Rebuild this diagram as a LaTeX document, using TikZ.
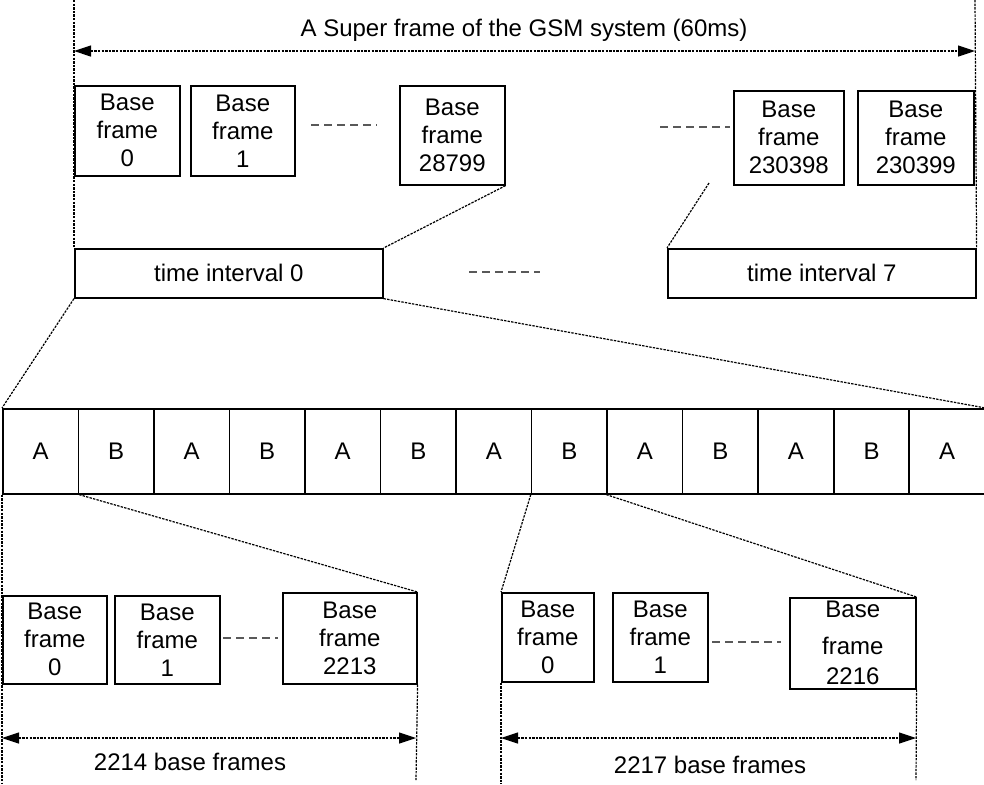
\documentclass[tikz,border=0pt]{standalone}
\usepackage{fontspec}
\setmainfont{Liberation Sans}
\usetikzlibrary{arrows.meta}

\begin{document}
\begin{tikzpicture}[
    x=0.5pt, y=-0.5pt,
    font=\fontsize{12}{14}\selectfont,
    frm/.style={draw,line width=0.8pt,align=center,inner sep=0pt,anchor=north west},
    wh/.style 2 args={minimum width=#1*0.5pt,minimum height=#2*0.5pt},
    guide/.style={line width=0.6pt,dash pattern=on 1.2pt off 0.6pt},
    gap/.style={gray!70!black,line width=0.7pt,dash pattern=on 4pt off 2.5pt},
    span/.style={guide,{Triangle[length=8.5pt,width=5.5pt]}-{Triangle[length=8.5pt,width=5.5pt]}},
  ]
  \useasboundingbox (0,0) rectangle (984,784);

  % super frame
  \node (sf) at (524,30) {A Super frame of the GSM system (60ms)};
  \coordinate (sfl) at (74,0);
  \coordinate (sfr) at (975,0);
  \draw[span] (74,51) -- (975,51);

  % base frames of the super frame
  \node[frm,wh={105}{90}] (t0) at (74,85) {Base\\frame\\0};
  \node[frm,wh={104}{90}] (t1) at (190,85) {Base\\frame\\1};
  \node[frm,wh={105}{99}] (t28799) at (399,85) {Base\\frame\\28799};
  \node[frm,wh={110}{94}] (t230398) at (733,90) {Base\\frame\\230398};
  \node[frm,wh={116}{94}] (t230399) at (857,90) {Base\\frame\\230399};
  \draw[gap] (311,125) -- (377,125);
  \draw[gap] (660,127) -- (730,127);

  % time intervals
  \node[frm,wh={308}{49}] (ti0) at (74,248) {time interval 0};
  \node[frm,wh={308}{49}] (ti7) at (667,248) {time interval 7};
  \draw[gap] (469,272) -- (540,272);

  \draw[guide] (sfl) -- (ti0.north west);
  \draw[guide] (sfr) -- (ti7.north east);
  \coordinate (z7) at (709,183);
  \draw[guide] (t28799.south east) -- (ti0.north east);
  \draw[guide] (z7) -- (ti7.north west);

  % A/B slots of time interval 0
  \foreach \i/\t in {0/A,1/B,2/A,3/B,4/A,5/B,6/A,7/B,8/A,9/B,10/A,11/B,12/A}
    \node[frm,wh={75.54}{85}] (c\i) at ({2+75.54*\i},408) {\t};
  \draw[guide] (ti0.south west) -- (c0.north west);
  \draw[guide] (ti0.south east) -- (c12.north east);

  % base frames of slot A
  \node[frm,wh={104}{88}] (b0) at (2,595) {Base\\frame\\0};
  \node[frm,wh={105}{88}] (b1) at (114,595) {Base\\frame\\1};
  \node[frm,wh={134}{91}] (b2213) at (282,592) {Base\\frame\\2213};
  \draw[gap] (223,638) -- (278,638);
  \draw[guide] (c0.south east) -- (b2213.north east);

  % base frames of slot B
  \node[frm,wh={92}{89}] (r0) at (501,592) {Base\\frame\\0};
  \node[frm,wh={95}{89}] (r1) at (612,592) {Base\\frame\\1};
  \node[frm,wh={126}{91}] (r2216) at (789,597) {Base\\[4.5pt]frame\\[1pt]2216};
  \draw[gap] (712,642) -- (781,642);
  \draw[guide] (c7.south west) -- (r0.north west);
  \draw[guide] (c8.south west) -- (r2216.north east);

  % lengths
  \coordinate (bl) at (2,784);
  \coordinate (br) at (416,780);
  \coordinate (rl) at (501,784);
  \coordinate (rr) at (916,780);
  \draw[guide] (c0.south west) -- (bl);
  \draw[guide] (b2213.south east) -- (br);
  \draw[guide] (r0.south west) -- (rl);
  \draw[guide] (r2216.south east) -- (rr);
  \draw[span] (2,738) -- (416,738);
  \draw[span] (501,738) -- (916,738);
  \node (nb) at (190,762) {2214 base frames};
  \node (nr) at (710,765) {2217 base frames};

\end{tikzpicture}
\end{document}
